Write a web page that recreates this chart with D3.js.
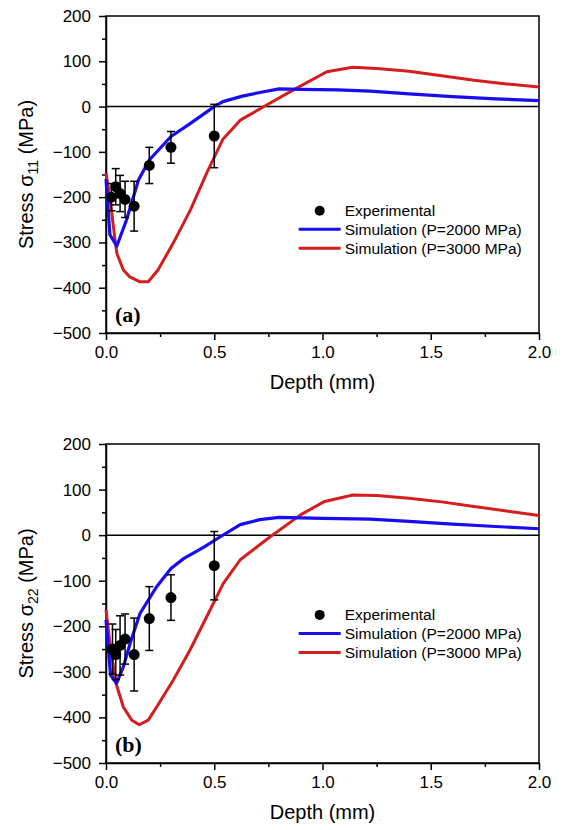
<!DOCTYPE html>
<html>
<head>
<meta charset="utf-8">
<script src="https://d3js.org/d3.v7.min.js"></script>
<style>
  body { margin: 0; background: #fff; }
  svg { font-family: "Liberation Sans", Arial, sans-serif; }
  .axis path, .axis line { stroke: #000; stroke-width: 1.5; }
  .axis text { font-size: 17px; fill: #000; }
</style>
</head>
<body>
<div id="chart"></div>
<script>
// chart values

var xTicks = [0, 0.5, 1.0, 1.5, 2.0];
var yTicks = [-500, -400, -300, -200, -100, 0, 100, 200];

// panel (a) sigma 11
var expDepthA = [0.025, 0.045, 0.065, 0.088, 0.13, 0.2, 0.3, 0.5];
var expStressA = [-200, -177, -192, -205, -220, -130, -90, -65];
var expErrA = [30, 40, 40, 40, 55, 40, 35, 70];

var simDepthA2000 = [0, 0.018, 0.05, 0.095, 0.15, 0.2, 0.3, 0.39, 0.5, 0.54, 0.63, 0.71, 0.8, 0.9, 1.07, 1.22, 1.4, 1.6, 1.8, 2.0];
var simStressA2000 = [-160, -283, -308, -250, -162, -118, -66, -37, 0, 11, 23, 31, 39, 38, 37, 34, 28, 22, 17, 13];

var simDepthA3000 = [0, 0.018, 0.042, 0.05, 0.08, 0.11, 0.157, 0.195, 0.24, 0.31, 0.39, 0.465, 0.54, 0.62, 0.73, 0.87, 1.02, 1.14, 1.25, 1.4, 1.55, 1.7, 1.85, 2.0];
var simStressA3000 = [-147, -200, -295, -324, -361, -376, -387, -387, -361, -302, -228, -147, -72, -30, 0, 38, 77, 87, 84, 78, 68, 58, 50, 43];

// panel (b) sigma 22
var expDepthB = [0.03, 0.045, 0.065, 0.088, 0.13, 0.2, 0.3, 0.5];
var expStressB = [-250, -262, -242, -228, -262, -183, -137, -67];
var expErrB = [55, 55, 65, 55, 80, 70, 50, 75];

var simDepthB2000 = [0, 0.021, 0.049, 0.08, 0.111, 0.157, 0.234, 0.3, 0.36, 0.45, 0.53, 0.62, 0.71, 0.8, 1.0, 1.22, 1.4, 1.6, 1.8, 2.0];
var simStressB2000 = [-186, -307, -325, -289, -238, -172, -113, -73, -51, -27, -3, 23, 34, 39, 37, 35, 30, 24, 19, 14];

var simDepthB3000 = [0, 0.018, 0.046, 0.08, 0.119, 0.154, 0.195, 0.234, 0.311, 0.388, 0.465, 0.542, 0.62, 0.74, 0.9, 1.01, 1.14, 1.25, 1.4, 1.55, 1.7, 1.85, 2.0];
var simStressB3000 = [-164, -237, -325, -377, -406, -416, -406, -377, -318, -252, -179, -106, -54, -10, 45, 74, 88, 87, 81, 73, 63, 53, 43];

var legendLabels = ['Experimental', 'Simulation (P=2000 MPa)', 'Simulation (P=3000 MPa)'];

var svgWidth = 565;
var svgHeight = 830;

var svg = d3.select('#chart')
    .append('svg')
    .attr('width', svgWidth)
    .attr('height', svgHeight);

var left = 106, right = 539;
var width = right - left;

function zip(xs, ys) {
    return xs.map((x, i) => [x, ys[i]]);
}

function drawPanel(top, bottom, p) {
    var height = bottom - top;
    var g = svg.append('g')
        .attr('transform', `translate(${left},${top})`);

    var x = d3.scaleLinear().domain([0, 2]).range([0, width]);
    var y = d3.scaleLinear().domain([-500, 200]).range([height, 0]);

    // minor ticks
    g.append('g')
        .attr('class', 'axis')
        .call(d3.axisLeft(y).tickValues(d3.range(-450, 200, 100)).tickSize(4).tickFormat(''))
        .select('.domain').remove();
    g.append('g')
        .attr('class', 'axis')
        .attr('transform', `translate(0,${height})`)
        .call(d3.axisBottom(x).tickValues([0.25, 0.75, 1.25, 1.75]).tickSize(4).tickFormat(''))
        .select('.domain').remove();

    // major axes
    g.append('g')
        .attr('class', 'axis')
        .call(d3.axisLeft(y).tickValues(yTicks).tickSize(7).tickSizeOuter(0).tickPadding(8).tickFormat(d3.format('d')));
    g.append('g')
        .attr('class', 'axis')
        .attr('transform', `translate(0,${height})`)
        .call(d3.axisBottom(x).tickValues(xTicks).tickSize(7).tickSizeOuter(0).tickPadding(6).tickFormat(d3.format('.1f')));

    // frame
    g.append('rect')
        .attr('x', 0).attr('y', 0)
        .attr('width', width).attr('height', height)
        .attr('fill', 'none')
        .attr('stroke', '#000')
        .attr('stroke-width', 1.5);

    // zero line
    g.append('line')
        .attr('x1', 0).attr('x2', width)
        .attr('y1', y(0)).attr('y2', y(0))
        .attr('stroke', '#000')
        .attr('stroke-width', 1.5);

    var line = d3.line()
        .x(d => x(d[0]))
        .y(d => y(d[1]));

    g.append('path')
        .datum(zip(p.d3000, p.s3000))
        .attr('d', line)
        .attr('fill', 'none')
        .attr('stroke', '#d41e1e')
        .attr('stroke-width', 3)
        .attr('stroke-linejoin', 'round');

    g.append('path')
        .datum(zip(p.d2000, p.s2000))
        .attr('d', line)
        .attr('fill', 'none')
        .attr('stroke', '#1a0cf0')
        .attr('stroke-width', 3.2)
        .attr('stroke-linejoin', 'round');

    // experimental points with error bars
    var pts = p.expD.map((d, i) => ({ d: d, s: p.expS[i], e: p.expE[i] }));
    var bars = g.append('g').selectAll('g')
        .data(pts)
        .enter()
        .append('g');
    bars.append('line')
        .attr('x1', d => x(d.d)).attr('x2', d => x(d.d))
        .attr('y1', d => y(d.s - d.e)).attr('y2', d => y(d.s + d.e))
        .attr('stroke', '#000').attr('stroke-width', 1.5);
    bars.append('line')
        .attr('x1', d => x(d.d) - 4).attr('x2', d => x(d.d) + 4)
        .attr('y1', d => y(d.s + d.e)).attr('y2', d => y(d.s + d.e))
        .attr('stroke', '#000').attr('stroke-width', 1.5);
    bars.append('line')
        .attr('x1', d => x(d.d) - 4).attr('x2', d => x(d.d) + 4)
        .attr('y1', d => y(d.s - d.e)).attr('y2', d => y(d.s - d.e))
        .attr('stroke', '#000').attr('stroke-width', 1.5);
    bars.append('circle')
        .attr('cx', d => x(d.d))
        .attr('cy', d => y(d.s))
        .attr('r', 5.5)
        .attr('fill', '#000');

    // legend
    var lg = g.append('g')
        .attr('transform', `translate(${x(0.89)},${y(p.legendY)})`);
    lg.append('circle')
        .attr('cx', 21).attr('cy', 0).attr('r', 5)
        .attr('fill', '#000');
    lg.append('line')
        .attr('x1', 0).attr('x2', 42).attr('y1', 18.5).attr('y2', 18.5)
        .attr('stroke', '#1a0cf0').attr('stroke-width', 3);
    lg.append('line')
        .attr('x1', 0).attr('x2', 42).attr('y1', 37.5).attr('y2', 37.5)
        .attr('stroke', '#d41e1e').attr('stroke-width', 3);
    lg.selectAll('text')
        .data(legendLabels)
        .enter()
        .append('text')
        .attr('x', 46)
        .attr('y', (d, i) => i * 19)
        .attr('dy', '0.35em')
        .attr('font-size', '15.5px')
        .text(d => d);

    // panel letter
    g.append('text')
        .attr('x', 9)
        .attr('y', height - 11)
        .attr('font-family', '"Liberation Serif", "Times New Roman", serif')
        .attr('font-weight', 'bold')
        .attr('font-size', '22px')
        .text(p.letter);

    // x title
    g.append('text')
        .attr('x', width / 2)
        .attr('y', height + 56)
        .attr('text-anchor', 'middle')
        .attr('font-size', '20px')
        .text('Depth (mm)');

    // y title
    var yt = g.append('text')
        .attr('transform', 'rotate(-90)')
        .attr('x', -height / 2)
        .attr('y', -left + 33)
        .attr('text-anchor', 'middle')
        .attr('font-size', '20px');
    yt.append('tspan').text('Stress \u03c3');
    yt.append('tspan').attr('font-size', '14px').attr('dy', 5).text(p.sub);
    yt.append('tspan').attr('dy', -5).text(' (MPa)');
}

drawPanel(16, 333, {
    letter: '(a)', sub: '11', legendY: -230,
    expD: expDepthA, expS: expStressA, expE: expErrA,
    d2000: simDepthA2000, s2000: simStressA2000,
    d3000: simDepthA3000, s3000: simStressA3000
});

drawPanel(444, 763, {
    letter: '(b)', sub: '22', legendY: -175,
    expD: expDepthB, expS: expStressB, expE: expErrB,
    d2000: simDepthB2000, s2000: simStressB2000,
    d3000: simDepthB3000, s3000: simStressB3000
});
</script>
</body>
</html>
